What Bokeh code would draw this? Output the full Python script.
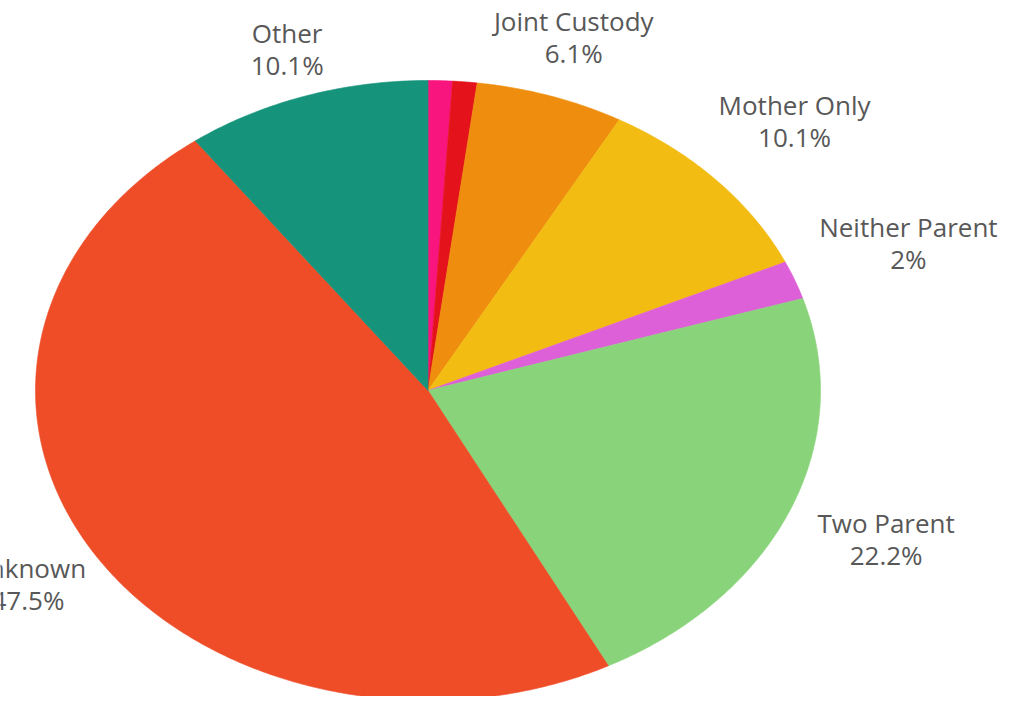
import numpy as np
from bokeh.plotting import figure
from bokeh.models import ColumnDataSource, Range1d
from bokeh.core.properties import value
from bokeh.embed import file_html
from bokeh.resources import INLINE

# ---- data (clockwise from 12 o'clock) ----
categories = ["Father Only", "Guardian", "Joint Custody", "Mother Only",
              "Neither Parent", "Two Parent", "Unknown", "Other"]
shares = [1.0, 1.0, 6.1, 10.1, 2.0, 22.2, 47.5, 10.1]
show_label = [False, False, True, True, True, True, True, True]
colors = ["#F9157E", "#E4131B", "#EF8E0E", "#F2BC13",
          "#DE60D8", "#89D47A", "#EE4D28", "#16937B"]

# ---- layout: label distance from centre (in pie radii) along slice mid-angle ----
label_dist = [1.2, 1.2, 1.19, 1.27, 1.31, 1.265, 1.2, 1.15]

# ---- geometry derived from the data ----
vals = np.array(shares, dtype=float)
total = vals.sum()
ends = np.cumsum(vals) / total * 2 * np.pi
starts = np.concatenate([[0.0], ends[:-1]])
mids = (starts + ends) / 2

xs, ys = [], []
for a0, a1 in zip(starts, ends):
    t = np.linspace(a0, a1, max(int((a1 - a0) / (2 * np.pi) * 720), 8))
    xs.append(np.concatenate([[0.0], np.sin(t), [0.0]]))
    ys.append(np.concatenate([[0.0], np.cos(t), [0.0]]))

slice_src = ColumnDataSource(dict(xs=xs, ys=ys, color=colors, name=categories))

lab_r = np.array(label_dist)
lab_x = lab_r * np.sin(mids)
lab_y = lab_r * np.cos(mids)
idx = [i for i, s in enumerate(show_label) if s]
lab_src = ColumnDataSource(dict(
    x=lab_x[idx], y=lab_y[idx],
    name=[categories[i] for i in idx],
    pct=[f"{shares[i]:g}%" for i in idx],
))

W, H = 1010, 696
CX, CY, RX, RY = 427.5, 390.0, 392.5, 310.0
p = figure(width=W, height=H, output_backend="svg", toolbar_location=None,
           x_range=Range1d(-CX / RX, (W - CX) / RX),
           y_range=Range1d(-(H - CY) / RY, CY / RY),
           x_axis_type=None, y_axis_type=None, min_border=0,
           background_fill_color="white", border_fill_color="white")
p.outline_line_color = None
p.grid.visible = False

p.patches("xs", "ys", source=slice_src, fill_color="color",
          line_color="color", line_width=0.6)

common = dict(source=lab_src, text_align="center", text_baseline="middle",
              text_font=value("Open Sans"), text_font_size="26px",
              text_color="#585858")
p.text("x", "y", text="name", y_offset=-19, **common)
p.text("x", "y", text="pct", y_offset=13, **common)

open("out.html", "w").write(file_html(p, INLINE))
